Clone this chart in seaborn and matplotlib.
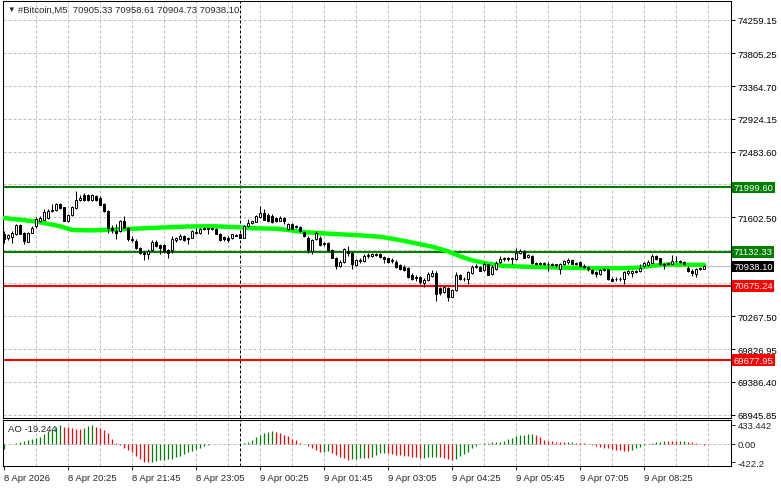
import numpy as np
import pandas as pd
import matplotlib
matplotlib.use("Agg")
import matplotlib.pyplot as plt
import matplotlib.transforms as mtransforms
import seaborn as sns

# =============================
# Data
# =============================
title_text = "#Bitcoin,M5  70905.33 70958.61 70904.73 70938.10"

opens = [
    71368, 71324, 71333, 71368, 71493, 71391, 71271, 71391, 71480, 71555,
    71569, 71591, 71680, 71702, 71778, 71733, 71555, 71627, 71724, 71836,
    71902, 71902, 71827, 71880, 71858, 71778, 71689, 71449, 71413, 71413,
    71555, 71457, 71302, 71279, 71190, 71124, 71110, 71159, 71271, 71226,
    71226, 71155, 71155, 71288, 71302, 71346, 71302, 71324, 71404, 71391,
    71435, 71449, 71440, 71444, 71377, 71333, 71324, 71315, 71360, 71368,
    71324, 71480, 71524, 71538, 71600, 71658, 71635, 71613, 71591, 71555,
    71591, 71435, 71511, 71466, 71466, 71404, 71324, 71146, 71302, 71324,
    71235, 71257, 71155, 71057, 70946, 71004, 71146, 71124, 70959, 71012,
    71012, 71079, 71084, 71101, 71110, 71066, 71048, 71012, 71004, 70959,
    70932, 70915, 70826, 70777, 70799, 70710, 70754, 70812, 70852, 70648,
    70590, 70648, 70532, 70621, 70821, 70772, 70768, 70843, 70932, 70932,
    70888, 70968, 70834, 70901, 71004, 71035, 71048, 71035, 71035, 71124,
    71146, 71066, 71079, 70986, 70977, 70986, 70977, 70968, 70955, 70901,
    70968, 71004, 71021, 70986, 70995, 70950, 70932, 70888, 70857, 70834,
    70888, 70897, 70772, 70763, 70772, 70768, 70843, 70852, 70866, 70870,
    70946, 70959, 70990, 71079, 71048, 70977, 70968, 70977, 71012, 71008,
    71004, 70923, 70879, 70834, 70897, 70905.33,
]
highs = [
    71413, 71377, 71413, 71511, 71502, 71400, 71404, 71480, 71600, 71613,
    71716, 71716, 71778, 71791, 71791, 71742, 71644, 71747, 71947, 71902,
    71925, 71911, 71911, 71902, 71880, 71791, 71702, 71493, 71511, 71569,
    71613, 71466, 71346, 71302, 71199, 71146, 71168, 71288, 71288, 71244,
    71244, 71168, 71346, 71333, 71368, 71360, 71333, 71422, 71449, 71449,
    71466, 71457, 71457, 71457, 71391, 71346, 71346, 71377, 71377, 71377,
    71493, 71582, 71555, 71627, 71747, 71716, 71658, 71644, 71600, 71613,
    71600, 71524, 71524, 71493, 71480, 71413, 71346, 71302, 71413, 71346,
    71271, 71271, 71168, 71066, 71021, 71190, 71213, 71146, 71035, 71048,
    71101, 71124, 71124, 71124, 71124, 71079, 71057, 71048, 71021, 70977,
    70959, 70932, 70843, 70826, 70812, 70781, 70857, 70888, 70870, 70665,
    70679, 70656, 70634, 70857, 70834, 70790, 70870, 70959, 70968, 70946,
    71004, 70977, 70959, 71012, 71079, 71066, 71066, 71066, 71190, 71168,
    71155, 71110, 71093, 71004, 71004, 71004, 70995, 70986, 70977, 70986,
    71030, 71057, 71030, 71004, 71012, 70977, 70946, 70901, 70870, 70901,
    70915, 70901, 70790, 70790, 70790, 70870, 70888, 70888, 70888, 70977,
    71004, 71021, 71101, 71093, 71057, 70990, 71004, 71093, 71079, 71030,
    71012, 70946, 70901, 70915, 70932, 70958.61,
]
lows = [
    71257, 71288, 71257, 71360, 71368, 71244, 71262, 71382, 71457, 71538,
    71560, 71582, 71671, 71689, 71716, 71546, 71538, 71618, 71716, 71822,
    71822, 71822, 71822, 71822, 71760, 71671, 71391, 71391, 71302, 71404,
    71449, 71279, 71271, 71168, 71101, 71021, 71035, 71146, 71199, 71101,
    71124, 71057, 71124, 71271, 71288, 71279, 71244, 71315, 71377, 71377,
    71426, 71368, 71426, 71368, 71279, 71279, 71266, 71302, 71342, 71315,
    71315, 71466, 71511, 71529, 71591, 71560, 71538, 71524, 71529, 71546,
    71511, 71426, 71435, 71457, 71404, 71333, 71124, 71101, 71288, 71213,
    71213, 71146, 71048, 70901, 70932, 70990, 71079, 70910, 70946, 70990,
    71004, 71057, 71066, 71075, 71057, 70990, 70990, 70990, 70923, 70888,
    70870, 70781, 70754, 70745, 70701, 70656, 70745, 70799, 70478, 70559,
    70576, 70478, 70523, 70612, 70754, 70745, 70701, 70834, 70915, 70870,
    70879, 70817, 70826, 70888, 70986, 71012, 71012, 70968, 71021, 71110,
    71048, 71048, 70977, 70959, 70959, 70959, 70870, 70937, 70932, 70834,
    70959, 70968, 70968, 70959, 70932, 70923, 70879, 70834, 70799, 70826,
    70870, 70754, 70737, 70745, 70745, 70701, 70826, 70790, 70852, 70861,
    70932, 70950, 70981, 71021, 70959, 70901, 70959, 70968, 70995, 70986,
    70959, 70861, 70812, 70799, 70888, 70904.73,
]
closes = [
    71302, 71360, 71391, 71493, 71377, 71279, 71391, 71457, 71582, 71591,
    71671, 71689, 71702, 71778, 71724, 71555, 71635, 71733, 71836, 71858,
    71836, 71827, 71894, 71836, 71769, 71689, 71449, 71422, 71391, 71555,
    71457, 71302, 71288, 71190, 71124, 71110, 71146, 71271, 71213, 71190,
    71146, 71124, 71302, 71324, 71346, 71288, 71315, 71413, 71391, 71435,
    71449, 71440, 71449, 71377, 71288, 71302, 71288, 71368, 71346, 71324,
    71480, 71524, 71546, 71613, 71658, 71569, 71555, 71538, 71546, 71591,
    71546, 71511, 71444, 71480, 71413, 71346, 71155, 71288, 71391, 71226,
    71253, 71155, 71057, 70946, 71004, 71168, 71124, 70968, 71021, 71021,
    71079, 71093, 71101, 71093, 71066, 71035, 71004, 71021, 70932, 70901,
    70888, 70799, 70768, 70799, 70723, 70754, 70834, 70852, 70567, 70576,
    70656, 70523, 70621, 70826, 70768, 70763, 70857, 70932, 70941, 70879,
    70977, 70826, 70932, 70990, 71035, 71048, 71035, 71048, 71124, 71146,
    71057, 71093, 70990, 70977, 70986, 70977, 70968, 70955, 70964, 70968,
    71012, 71030, 70977, 70977, 70946, 70932, 70897, 70843, 70834, 70888,
    70897, 70768, 70745, 70772, 70763, 70857, 70870, 70870, 70870, 70923,
    70981, 70999, 71079, 71035, 70968, 70959, 70986, 71012, 71012, 71004,
    70968, 70870, 70843, 70897, 70915, 70938.10,
]

# moving average, read at a few bars
ma_bars = [0, 8, 14, 17, 22, 28, 34, 40, 46, 52, 57, 62, 68, 72, 75, 80, 88, 94,
           98, 103, 107, 111, 114, 117, 121, 125, 130, 135, 141, 148, 156, 159,
           162, 166, 170, 175]
ma_vals = [71589, 71542, 71479, 71429, 71422, 71435, 71449, 71462, 71475, 71479,
           71469, 71453, 71445, 71422, 71399, 71382, 71359, 71338, 71302, 71248,
           71204, 71141, 71075, 71021, 70975, 70945, 70935, 70928, 70921, 70912,
           70915, 70924, 70948, 70965, 70961, 70959]

ao_vals = [
    -123, -7, 0, 7, 36, 58, 87, 109, 130, 159,
    217, 289, 340, 384, 433.442, 378, 374, 356, 343, 338,
    360, 396, 418, 378, 360, 312, 240, 107, 13, -36,
    -93, -142, -196, -289, -360, -414, -422.2, -414, -401, -383,
    -365, -356, -343, -312, -289, -240, -196, -165, -125, -93,
    -49, -22, -13, -7, -4, -3, -5, -13, -9, -4,
    13, 36, 93, 142, 196, 254, 276, 289, 276, 240,
    196, 169, 107, 93, 22, -9, -49, -93, -156, -191,
    -182, -178, -214, -267, -307, -334, -365, -347, -343, -338,
    -325, -334, -294, -254, -223, -214, -223, -245, -254, -267,
    -271, -289, -294, -307, -325, -316, -312, -307, -303, -312,
    -329, -360, -374, -347, -289, -231, -182, -107, -49, -13,
    13, 22, 27, 36, 49, 71, 107, 129, 165, 196,
    209, 218, 223, 196, 147, 93, 71, 58, 49, 40,
    36, 37, 40, 22, 13, 4, -4, -22, -49, -71,
    -93, -107, -125, -134, -147, -160, -169, -147, -107, -71,
    -22, 0, 13, 36, 49, 67, 62, 58, 53, 61,
    64, 49, 27, 9, -4, -19.244,
]

time_labels = ["8 Apr 2026", "8 Apr 20:25", "8 Apr 21:45", "8 Apr 23:05",
               "9 Apr 00:25", "9 Apr 01:45", "9 Apr 03:05", "9 Apr 04:25",
               "9 Apr 05:45", "9 Apr 07:05", "9 Apr 08:25"]
label_bars = [0, 16, 32, 48, 64, 80, 96, 112, 128, 144, 160]
grid_bars = [8, 16, 24, 32, 40, 48, 56, 64, 72, 80, 88, 96, 104, 112, 120,
             128, 136, 144, 152, 160, 168, 176]
day_sep_bar = 59

price_ticks = [74259.15, 73805.25, 73364.70, 72924.15, 72483.60, 72042.05, 71602.50,
               71161.95, 70721.40, 70267.50, 69826.95, 69386.40, 68945.85]
price_labels = ["74259.15", "73805.25", "73364.70", "72924.15", "72483.60", "",
                "71602.50", "", "", "70267.50", "69826.95", "69386.40", "68945.85"]

levels = [71999.60, 71132.33, 70675.24, 69677.95]
level_colors = ["#008000", "#008000", "#ff0000", "#ff0000"]
last_price = 70938.10

ao_ticks = [433.442, 0.0, -422.2]
ao_labels = ["433.442", "0.00", "-422.2"]

# =============================
# Frames
# =============================
df = pd.DataFrame({"open": opens, "high": highs, "low": lows, "close": closes})
df["bar"] = np.arange(len(df))
df["up"] = df["close"] >= df["open"]

ma_df = pd.DataFrame({"bar": ma_bars, "ma": ma_vals})

ao_df = pd.DataFrame({"bar": np.arange(len(ao_vals)), "ao": ao_vals})
ao_df["color"] = np.where(ao_df["ao"].diff().fillna(1) > 0, "#008000", "#ff0000")

# =============================
# Style
# =============================
sns.set_style("white")
plt.rcParams["font.family"] = ["Liberation Sans", "DejaVu Sans"]
FS = 6.8
GRID = "#c0c0c0"
DOT = (0, (3, 2))

W, H = 781, 489
fig = plt.figure(figsize=(W / 100, H / 100), dpi=100)
ax = fig.add_axes([3 / W, 70 / H, 728 / W, 417 / H])
ax2 = fig.add_axes([3 / W, 22 / H, 728 / W, 46 / H])

xlim = (-0.25, 181.75)

# =============================
# Main price panel
# =============================
for p in price_ticks:
    ax.axhline(p, color=GRID, lw=0.72, ls=DOT, zorder=0)
for b in grid_bars:
    ax.axvline(b, color=GRID, lw=0.72, ls=DOT, zorder=0)
ax.axvline(day_sep_bar, color="black", lw=0.72, ls=DOT, zorder=1)

ax.axhline(last_price, color=GRID, lw=0.9, zorder=1)
for lv, c in zip(levels, level_colors):
    ax.axhline(lv, color=c, lw=1.5, zorder=2)

sns.lineplot(data=ma_df, x="bar", y="ma", color="#00ff00", lw=3.2, ax=ax, zorder=3)

ax.vlines(df["bar"], df["low"], df["high"], color="black", lw=0.75, zorder=4)
body_low = df[["open", "close"]].min(axis=1)
body_h = (df["close"] - df["open"]).abs()
ax.bar(df["bar"], body_h, bottom=body_low, width=0.7,
       color=np.where(df["up"], "white", "black"),
       edgecolor="black", linewidth=0.7, zorder=5)

ax.set_xlim(*xlim)
ax.set_ylim(68899.3, 74508.0)
ax.set_xticks([])
ax.set_xlabel("")
ax.set_ylabel("")
ax.yaxis.tick_right()
ax.set_yticks(price_ticks)
ax.set_yticklabels(price_labels)
ax.tick_params(axis="y", right=True, left=False, length=3, width=0.7,
               pad=2, labelsize=FS, colors="black")

trans = mtransforms.blended_transform_factory(ax.transAxes, ax.transData)
box_items = list(zip(levels, level_colors)) + [(last_price, "black")]
for lv, c in box_items:
    ax.text(1.0035, lv, f"{lv:.2f}", transform=trans, ha="left", va="center",
            fontsize=FS, color="white", clip_on=False, zorder=10,
            bbox=dict(boxstyle="square,pad=0.12", fc=c, ec="none"))

for sp in ax.spines.values():
    sp.set_color("black")
    sp.set_linewidth(0.75)

fig.text(7 / W, 1 - 10 / H, "\u25bc", fontsize=5.5, va="center", ha="left")
fig.text(18 / W, 1 - 10 / H, title_text, fontsize=FS, va="center", ha="left")

# =============================
# AO panel
# =============================
ax2.axhline(0, color=GRID, lw=0.72, ls=DOT, zorder=0)
for b in grid_bars:
    ax2.axvline(b, color=GRID, lw=0.72, ls=DOT, zorder=0)
ax2.axvline(day_sep_bar, color="black", lw=0.72, ls=DOT, zorder=1)

ax2.vlines(ao_df["bar"], 0, ao_df["ao"], colors=ao_df["color"], lw=0.9, zorder=3)

ax2.set_xlim(*xlim)
ax2.set_ylim(-510, 540)
ax2.yaxis.tick_right()
ax2.set_yticks(ao_ticks)
ax2.set_yticklabels(ao_labels)
ax2.set_xticks(label_bars)
ax2.set_xticklabels(time_labels, ha="left")
ax2.tick_params(axis="y", right=True, left=False, length=3, width=0.7,
                pad=2, labelsize=FS)
ax2.tick_params(axis="x", bottom=True, length=3, width=0.7, pad=2, labelsize=FS)
for sp in ax2.spines.values():
    sp.set_color("black")
    sp.set_linewidth(0.75)

ax2.text(5 / 728, 1 - 9 / 46, "AO -19.244", transform=ax2.transAxes,
         fontsize=FS, va="center", ha="left")

fig.savefig("out.png", dpi=100)
